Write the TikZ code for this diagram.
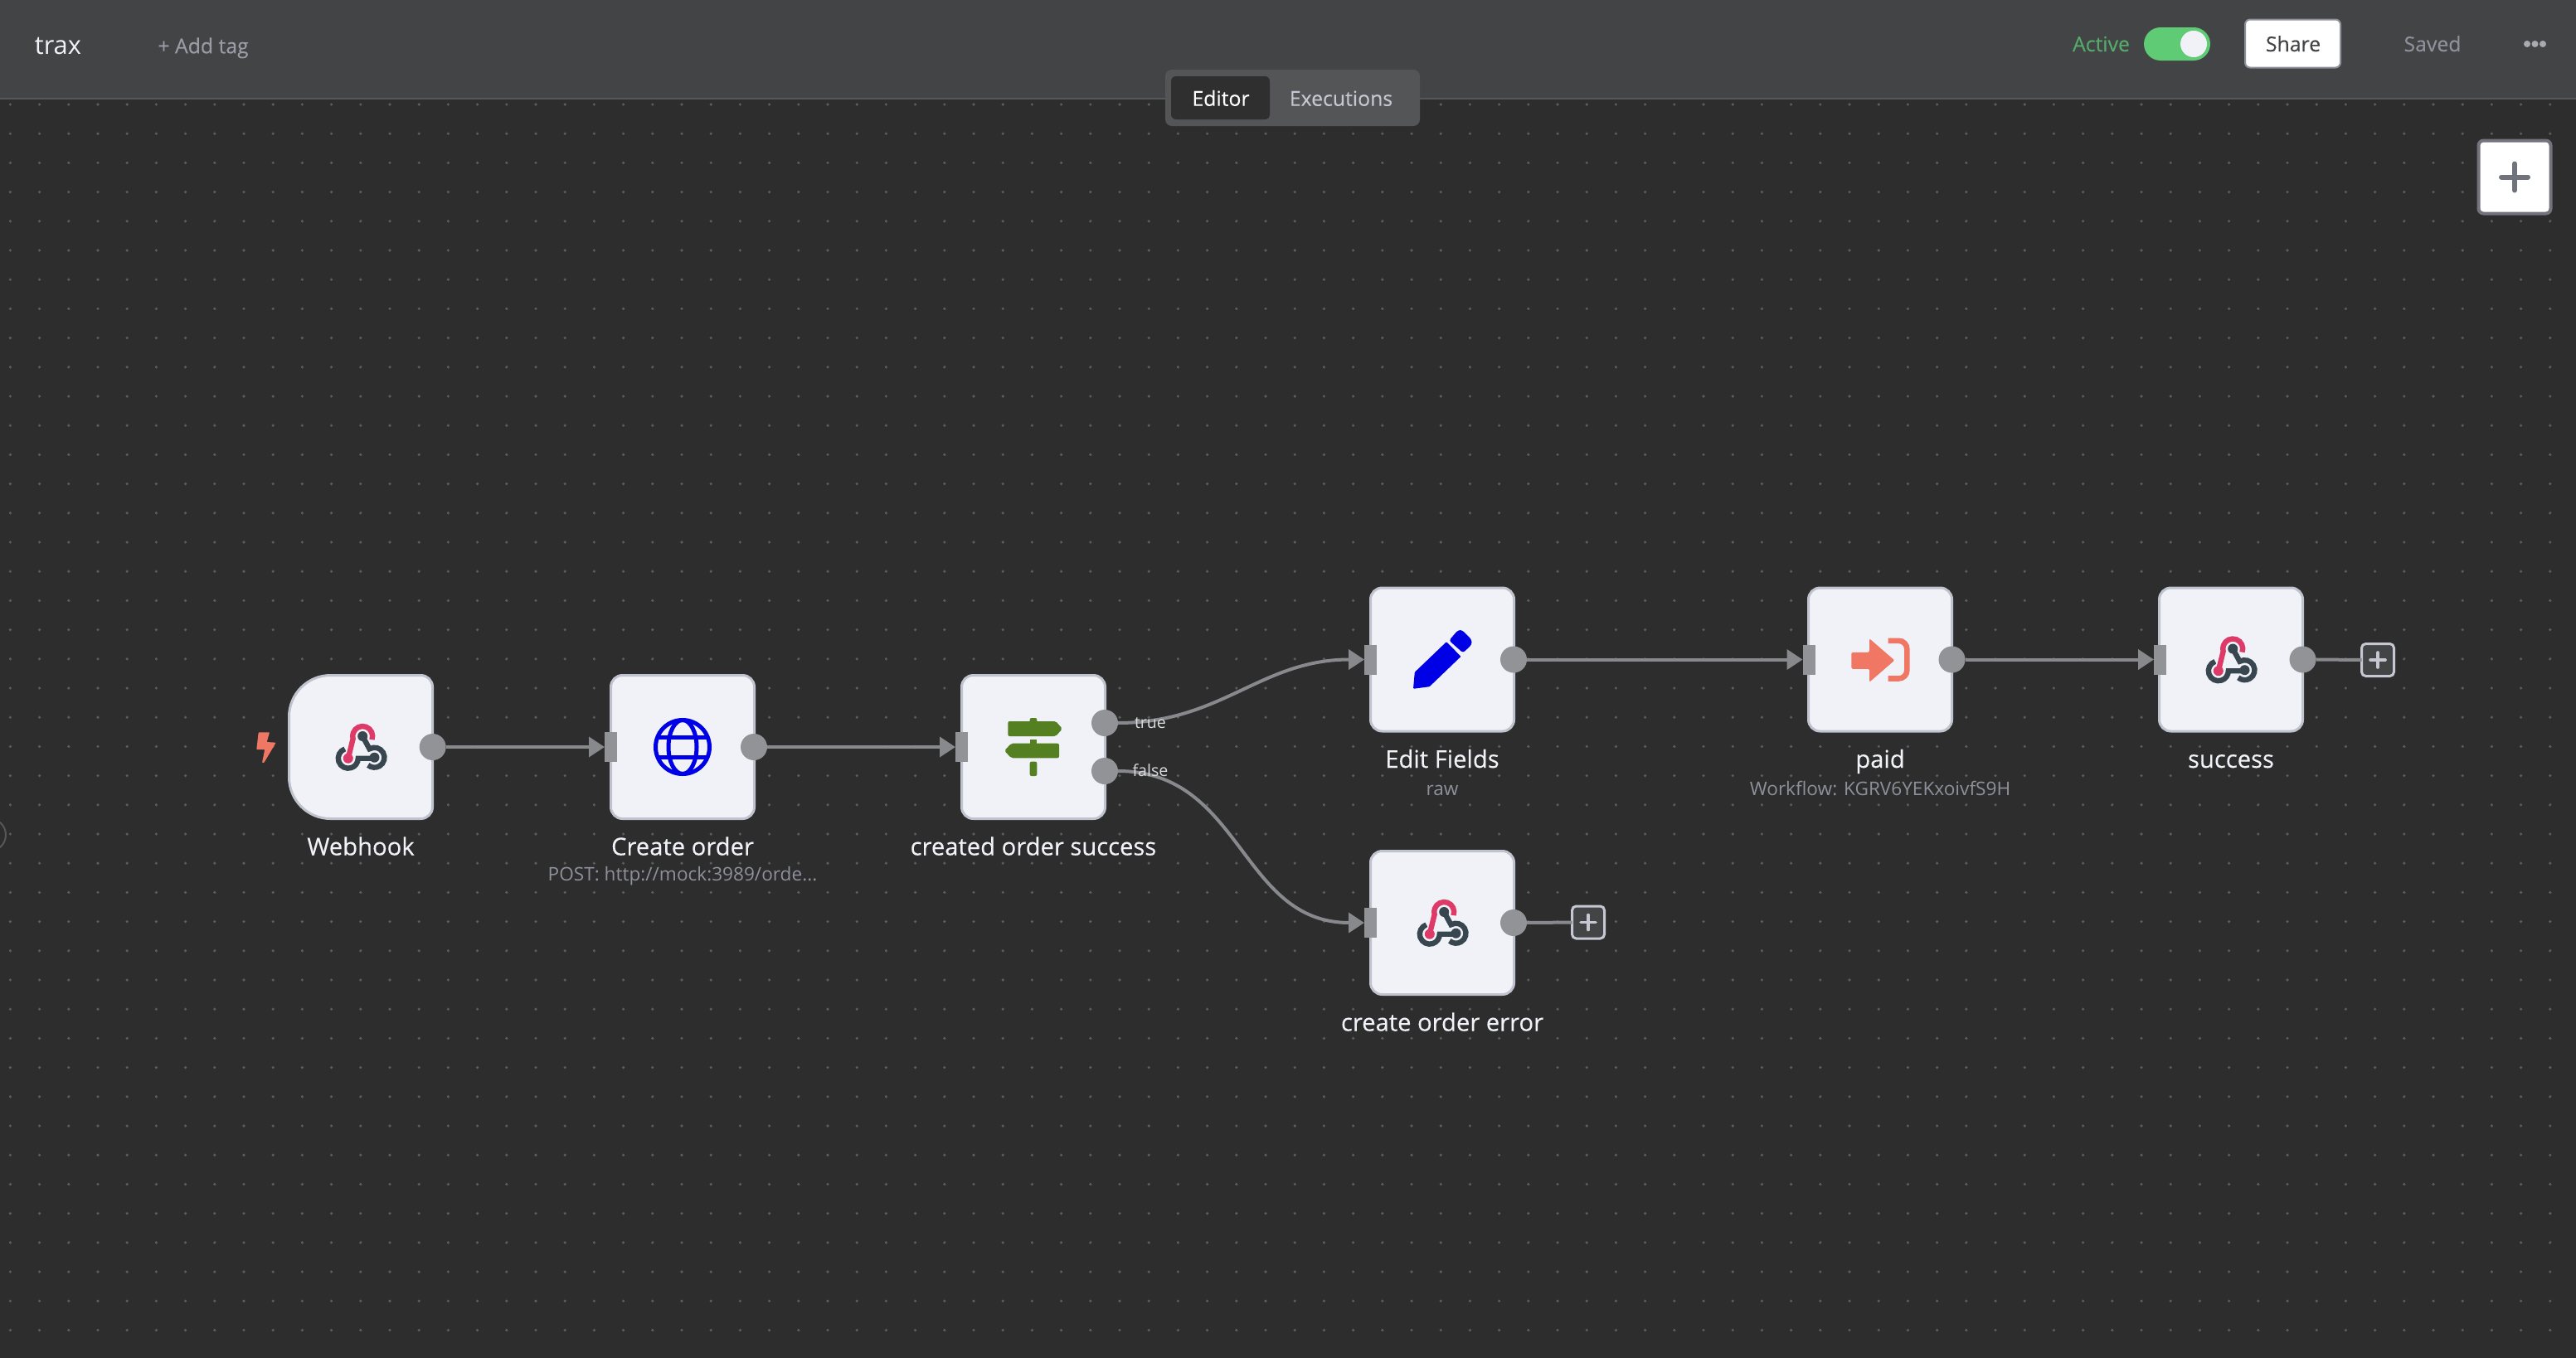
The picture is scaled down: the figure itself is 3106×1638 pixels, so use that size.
\documentclass[tikz,border=0pt]{standalone}
\usepackage{fontspec}
\setmainfont{Open Sans}
\newfontfamily\labelfont[FakeBold=0.25]{Open Sans}
\usetikzlibrary{positioning,arrows.meta}
\definecolor{canvasgray}{HTML}{2D2D2D}
\definecolor{griddotgray}{HTML}{5C5C5C}
\definecolor{headergray}{HTML}{434446}
\definecolor{headerline}{HTML}{565758}
\definecolor{tabgray}{HTML}{545557}
\definecolor{tabdark}{HTML}{2F2F2F}
\definecolor{tabtext}{HTML}{C5C8D3}
\definecolor{nodefill}{HTML}{F1F2F8}
\definecolor{nodeline}{HTML}{BFC3CE}
\definecolor{portgray}{HTML}{929397}
\definecolor{linkgray}{HTML}{88898D}
\definecolor{subtext}{HTML}{8E909B}
\definecolor{hookred}{HTML}{DD3A68}
\definecolor{hookdark}{HTML}{38474F}
\definecolor{globeblue}{HTML}{0000E6}
\definecolor{signgreen}{HTML}{548022}
\definecolor{flashred}{HTML}{EF7764}
\definecolor{activegreen}{HTML}{56A96B}
\definecolor{toggleon}{HTML}{5FCB75}
\begin{document}
\begin{tikzpicture}[x=.5pt,y=-.5pt,
		griddot/.style={griddotgray},
		nodebox/.style={rectangle,draw=nodeline,fill=nodefill,line width=1.5pt,rounded corners=7pt,minimum size=86.5pt,inner sep=0pt,outer sep=0pt},
		boxframe/.style={rectangle,minimum size=86.5pt,inner sep=0pt,outer sep=0pt},
		outport/.style={circle,fill=portgray,minimum size=16pt,inner sep=0pt,outer sep=0pt},
		inport/.style={rectangle,fill=portgray,minimum width=7.5pt,minimum height=18pt,inner sep=0pt,outer sep=0pt},
		link/.style={draw=linkgray,line width=2pt,-{Triangle[length=9.5pt,width=12pt]}},
		stub/.style={draw=linkgray,line width=2pt},
		plusbox/.style={rectangle,draw=tabtext,fill=headergray,line width=1.5pt,rounded corners=2.5pt,minimum size=19.5pt,inner sep=0pt,outer sep=0pt},
		nodelabel/.style={inner sep=0pt,text=nodefill,font=\labelfont\fontsize{14.6}{17}\selectfont},
		sublabel/.style={inner sep=0pt,text=subtext,font=\fontsize{11.3}{14}\selectfont},
		portlabel/.style={inner sep=0pt,text=nodefill!90!black,font=\fontsize{9.8}{12}\selectfont},
		headertext/.style={inner sep=0pt,anchor=base,font=\labelfont\fontsize{12.4}{15}\selectfont},
		pics/webhookicon/.style={code={
			\draw[hookdark,line width=3.2pt] (2.2,-13) -- (10.5,2.3) arc[start angle=120,end angle=-130,radius=6pt];
			\draw[hookdark,line width=3.2pt] (-15.2,13.7) ++(109:6pt) arc[start angle=109,end angle=360,radius=6pt] -- (16.5,13.7);
			\fill[hookdark] (16.5,12.7) circle (3pt);
			\draw[nodefill,line width=4.8pt] (-9.4,-9.9) -- (-15.2,13.7);
			\draw[hookred,line width=3.2pt] (2.2,-13) ++(-20:6pt) arc[start angle=-20,end angle=195,radius=6pt] -- (-15.2,13.7);
			\fill[hookred] (-15.2,13.7) circle (3pt);
			\fill[hookdark] (2.2,-13) circle (3pt);
		}},
		pics/globeicon/.style={code={
			\draw[globeblue,line width=2.5pt] (0,0) circle (16.25pt);
			\draw[globeblue,line width=2.5pt] (0,0) ellipse [x radius=8.5pt,y radius=16.25pt];
			\draw[globeblue,line width=2.5pt] (-30,-12) -- (30,-12) (-30,12) -- (30,12);
		}},
		pics/signicon/.style={code={
			\fill[signgreen,rounded corners=1pt] (-30.7,-31) -- (27,-31) -- (35,-22) -- (27,-13) -- (-30.7,-13) -- cycle;
			\fill[signgreen,rounded corners=1pt] (31,-4.3) -- (-26.7,-4.3) -- (-35,4.5) -- (-26.7,13.3) -- (31,13.3) -- cycle;
			\fill[signgreen,rounded corners=1pt] (-4.3,-35) rectangle (4.3,-28);
			\fill[signgreen] (-4.3,-9) rectangle (4.3,-3);
			\fill[signgreen,rounded corners=1pt] (-4.3,17.7) rectangle (4.3,35);
		}},
		pics/penicon/.style={code={
			\fill[globeblue,rounded corners=.5pt] (5,-21.3) -- (22.5,-3.7) -- (-15.4,32.7) -- (-35,35.3) -- (-33.2,15.3) -- cycle;
			\fill[globeblue,rounded corners=1.5pt] (8.2,-23) -- (19,-35.5) -- (24,-35.5) -- (35.5,-23.7) -- (35.5,-18) -- (25,-8) -- cycle;
		}},
		pics/paidicon/.style={code={
			\fill[flashred,rounded corners=1pt] (-34.7,-8.7) -- (-13,-8.7) -- (-13,-25.3) -- (17.3,1) -- (-13,27.3) -- (-13,11.3) -- (-34.7,11.3) -- cycle;
			\draw[flashred,line width=3.3pt,rounded corners=5pt] (9.7,-22.7) -- (32.3,-22.7) -- (32.3,23) -- (9.7,23);
		}},
		pics/bolticon/.style={code={
			\fill[flashred,rounded corners=.4pt] (-8.3,-17.7) -- (5,-17.7) -- (1.7,-6) -- (12.7,-5.3) -- (-1.7,19) -- (-4,19) -- (-0.7,3) -- (-10.7,3) -- cycle;
		}},
		]
		\useasboundingbox (0,0) rectangle (3106,1638);
		\fill[canvasgray] (0,0) rectangle (3106,1638);
		\foreach \i in {0,...,87} {\foreach \j in {0,...,42} {\fill[griddot] ({12.4+35.2*\i},{126+35.2*\j}) circle (.9pt);}}
		\fill[headergray] (0,0) rectangle (3106,118);
		\fill[headerline] (0,118) rectangle (3106,120);
		\node (sidehandle) [circle,draw=headerline,line width=1pt,minimum size=19.6pt,inner sep=0pt] at (-12.6,1007) {};

		\node (title) [inner sep=0pt,anchor=base west,text=nodefill,font=\fontsize{15.4}{19}\selectfont] at (41.5,65) {trax};
		\node (addtag) [inner sep=0pt,anchor=base west,text=subtext!90!white,font=\labelfont\fontsize{12.4}{15}\selectfont] at (190,64.3) {+ Add tag};
		\node (tabs) [rectangle,fill=tabgray,rounded corners=4pt,minimum width=153.5pt,minimum height=34pt,inner sep=0pt] at (1558.5,118) {};
		\node (editortab) [rectangle,fill=tabdark,rounded corners=3pt,minimum width=59.5pt,minimum height=26pt,inner sep=0pt] at (1471.5,118) {};
		\node (editortext) [headertext,text=white] at (1472,127.7) {Editor};
		\node (execstext) [headertext,text=tabtext] at (1617,127.7) {Executions};
		\node (activetext) [headertext,text=activegreen] at (2533.5,62) {Active};
		\node (toggle) [rectangle,fill=toggleon,rounded corners=10pt,minimum width=40pt,minimum height=20pt,inner sep=0pt] at (2625,53) {};
		\node (knob) [circle,fill=nodefill,minimum size=16pt,inner sep=0pt] at (2645,53) {};
		\node (share) [rectangle,draw=subtext,fill=white,line width=1pt,rounded corners=3pt,minimum width=57.5pt,minimum height=29pt,inner sep=0pt] at (2764.5,52.5) {};
		\node (sharetext) [headertext,text=headergray] at (2765,62) {Share};
		\node (saved) [headertext,text=subtext] at (2933,62) {Saved};
		\foreach \k/\mx in {a/3047,b/3056.5,c/3066} {\node (menu\k) [circle,fill=tabtext!85!black,minimum size=4pt,inner sep=0pt] at (\mx,53) {};}
		\node (zoomplus) [rectangle,draw=subtext!80!black,fill=white,line width=2pt,rounded corners=3pt,minimum width=43.5pt,minimum height=44pt,inner sep=0pt] at (3032,213.5) {};
		\draw[subtext!80!black,line width=3pt,line cap=round] (zoomplus.center) ++(-16,0) -- ++(32,0) (zoomplus.center) ++(0,-16) -- ++(0,32);

		\node (webhook) [boxframe] at (435,901) {};
		\draw[draw=nodeline,fill=nodefill,line width=1.5pt] (webhook.north west) ++(50,0) -- ++(109,0) arc[start angle=90,end angle=0,radius=7pt] -- ++(0,145) arc[start angle=0,end angle=-90,radius=7pt] -- ++(-109,0) arc[start angle=270,end angle=180,radius=25pt] -- ++(0,-73) arc[start angle=180,end angle=90,radius=25pt] -- cycle;
		\node (createorder) [nodebox] at (823,901) {};
		\node (orderswitch) [nodebox] at (1246,901) {};
		\node (editfields) [nodebox] at (1739,795.5) {};
		\node (paid) [nodebox] at (2267,795.5) {};
		\node (success) [nodebox] at (2690,795.5) {};
		\node (errorhook) [nodebox] at (1739,1113) {};

		\pic at (webhook.center) {webhookicon};
		\pic at (createorder.center) {globeicon};
		\pic at (orderswitch.center) {signicon};
		\pic at (editfields.center) {penicon};
		\pic at (paid.center) {paidicon};
		\pic at (success.center) {webhookicon};
		\pic at (errorhook.center) {webhookicon};
		\pic at (320,901) {bolticon};

		\node (webhookout) [outport] at (521.7,901) {};
		\node (createin) [inport] at (736.5,901) {};
		\node (createout) [outport] at (909,901) {};
		\node (switchin) [inport] at (1159.5,901) {};
		\node (trueout) [outport] at (1332,872) {};
		\node (falseout) [outport] at (1332,930) {};
		\node (editin) [inport] at (1652.5,795.5) {};
		\node (editout) [outport] at (1825,795.5) {};
		\node (paidin) [inport] at (2181,795.5) {};
		\node (paidout) [outport] at (2353.5,795.5) {};
		\node (successin) [inport] at (2604.5,795.5) {};
		\node (successout) [outport] at (2776.5,795.5) {};
		\node (errorin) [inport] at (1652.5,1113) {};
		\node (errorout) [outport] at (1825,1113) {};
		\node (successplus) [plusbox] at (2867,796) {};
		\node (errorplus) [plusbox] at (1915,1112.5) {};

		\foreach \boxname in {successplus,errorplus} {
			\draw[tabtext,line width=1.8pt,line cap=round] (\boxname.center) ++(-9,0) -- ++(18,0) (\boxname.center) ++(0,-9) -- ++(0,18);
		}

		\draw[link] (webhookout) -- (createin);
		\draw[link] (createout) -- (switchin);
		\draw[link] (trueout.east) .. controls +(125,0) and +(-125,0) .. (editin.west);
		\draw[link] (falseout.east) .. controls +(150,0) and +(-150,0) .. (errorin.west);
		\draw[link] (editout) -- (paidin);
		\draw[link] (paidout) -- (successin);
		\draw[stub] (successout) -- (successplus);
		\draw[stub] (errorout) -- (errorplus);

		\node (truelabel) [portlabel,anchor=center] at (1387,872) {true};
		\node (falselabel) [portlabel,anchor=center] at (1387,929) {false};

		\node (webhooktext) [nodelabel,below=22pt of webhook,anchor=base] {Webhook};
		\node (createtext) [nodelabel,below=22pt of createorder,anchor=base] {Create order};
		\node (createsub) [sublabel,below=15.7pt of createtext.base,anchor=base] {POST: http://mock:3989/orde...};
		\node (switchtext) [nodelabel,below=22pt of orderswitch,anchor=base] {created order success};
		\node (edittext) [nodelabel,below=22pt of editfields,anchor=base] {Edit Fields};
		\node (editsub) [sublabel,below=16.5pt of edittext.base,anchor=base] {raw};
		\node (paidtext) [nodelabel,below=22pt of paid,anchor=base] {paid};
		\node (paidsub) [sublabel,below=16.5pt of paidtext.base,anchor=base] {Workflow: KGRV6YEKxoivfS9H};
		\node (successtext) [nodelabel,below=22pt of success,anchor=base] {success};
		\node (errortext) [nodelabel,below=22pt of errorhook,anchor=base] {create order error};
	\end{tikzpicture}
\end{document}
